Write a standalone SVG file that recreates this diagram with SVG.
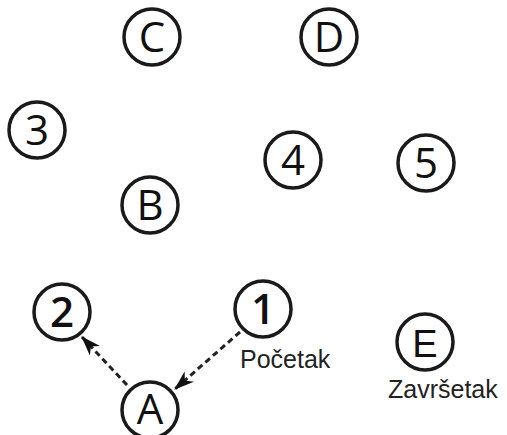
<svg xmlns="http://www.w3.org/2000/svg" width="507" height="435" viewBox="0 0 507 435">
<style>
.n{fill:none;stroke:#1a1a1a;stroke-width:3.5}
.t{font-family:"Open Sans","DejaVu Sans",sans-serif;font-size:42px;fill:#111;text-anchor:middle}
.b{font-weight:600}
.cap{font-family:"Liberation Sans",Arial,sans-serif;font-size:25px;fill:#222}
.e{stroke:#222;stroke-width:3;stroke-dasharray:6 4;fill:none}
</style>
<defs>
<marker id="ah" viewBox="0 0 20 14" refX="19" refY="7" markerWidth="20" markerHeight="14" markerUnits="userSpaceOnUse" orient="auto">
<path d="M0,0 L20,7 L0,14 L6,7 Z" fill="#111"/>
</marker>
</defs>
<rect width="507" height="435" fill="#fff"/>
<g id="connectors">
<line class="e" x1="240" y1="332" x2="175" y2="389" marker-end="url(#ah)"/>
<line class="e" x1="127" y1="385" x2="82" y2="337" marker-end="url(#ah)"/>
</g>
<g id="node-C"><circle class="n" cx="152" cy="37" r="28"/><text class="t" x="152" y="52">C</text></g>
<g id="node-D"><circle class="n" cx="329" cy="37" r="28"/><text class="t" x="329" y="52">D</text></g>
<g id="node-3"><circle class="n" cx="37" cy="130" r="28"/><text class="t" x="37" y="145">3</text></g>
<g id="node-4"><circle class="n" cx="293" cy="160" r="28"/><text class="t" x="293" y="175">4</text></g>
<g id="node-5"><circle class="n" cx="426" cy="163" r="28"/><text class="t" x="426" y="178">5</text></g>
<g id="node-B"><circle class="n" cx="150" cy="205" r="28"/><text class="t" x="150" y="220">B</text></g>
<g id="node-2"><circle class="n" cx="62" cy="312" r="28"/><text class="t b" x="62" y="327">2</text></g>
<g id="node-1"><circle class="n" cx="263" cy="309" r="28"/><text class="t b" x="263" y="324">1</text></g>
<g id="node-A"><circle class="n" cx="150" cy="410" r="28"/><text class="t" x="150" y="424">A</text></g>
<g id="node-E"><circle class="n" cx="425" cy="342" r="28"/><text class="t" x="425" y="357" style="font-family:'Liberation Sans',Arial,sans-serif;font-size:38px">E</text></g>
<text class="cap" x="240" y="368">Početak</text>
<text class="cap" x="388" y="398">Završetak</text>
</svg>
